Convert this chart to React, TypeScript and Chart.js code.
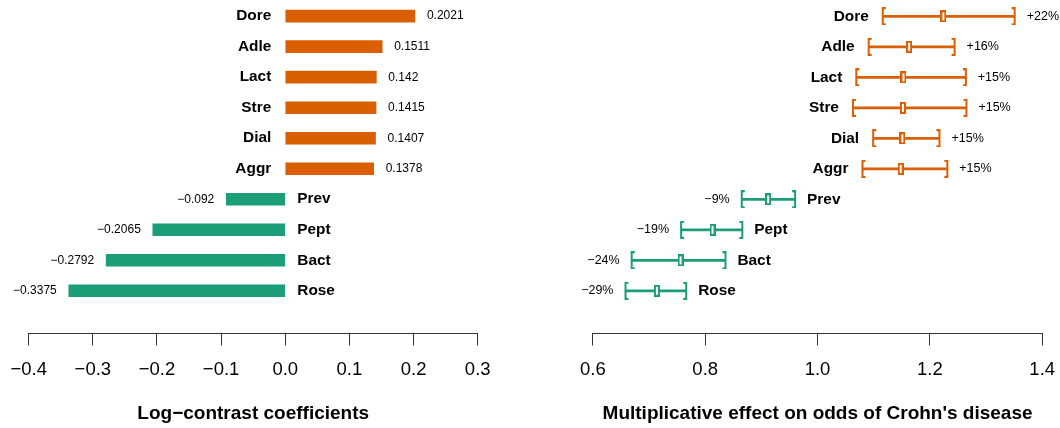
import React, { useEffect, useRef } from "react";
import { Chart, registerables } from "chart.js";

Chart.register(...registerables);

// ---------- data ----------
const categories = ["Dore", "Adle", "Lact", "Stre", "Dial", "Aggr", "Prev", "Pept", "Bact", "Rose"];
const coefficients = [0.2021, 0.1511, 0.142, 0.1415, 0.1407, 0.1378, -0.092, -0.2065, -0.2792, -0.3375];
const coefLabels = ["0.2021", "0.1511", "0.142", "0.1415", "0.1407", "0.1378", "\u22120.092", "\u22120.2065", "\u22120.2792", "\u22120.3375"];
const oddsEstimate = [1.224, 1.163, 1.153, 1.152, 1.151, 1.148, 0.912, 0.813, 0.756, 0.714];
const oddsLower = [1.116, 1.091, 1.069, 1.063, 1.099, 1.080, 0.865, 0.757, 0.669, 0.658];
const oddsUpper = [1.351, 1.244, 1.264, 1.265, 1.217, 1.231, 0.960, 0.866, 0.836, 0.766];
const effectLabels = ["+22%", "+16%", "+15%", "+15%", "+15%", "+15%", "\u22129%", "\u221219%", "\u221224%", "\u221229%"];
const leftTicks = [-0.4, -0.3, -0.2, -0.1, 0.0, 0.1, 0.2, 0.3];
const rightTicks = [0.6, 0.8, 1.0, 1.2, 1.4];
const leftTitle = "Log\u2212contrast coefficients";
const rightTitle = "Multiplicative effect on odds of Crohn's disease";

const ORANGE = "#D95F02";
const GREEN = "#1B9E77";
const FONT = "'Liberation Sans', Arial, Helvetica, sans-serif";
const W = 530;
const H = 428;

Chart.defaults.font.family = FONT;
Chart.defaults.color = "#000";

const fmt = (v: number) => (v < 0 ? "\u2212" + Math.abs(v).toFixed(1) : v.toFixed(1));
const rowColor = (i: number) => (coefficients[i] >= 0 ? ORANGE : GREEN);

function makeBracket(color: string, side: "left" | "right") {
  const c = document.createElement("canvas");
  c.width = 10;
  c.height = 18;
  const ctx = c.getContext("2d")!;
  ctx.fillStyle = color;
  ctx.fillRect(4, 0, 2, 18);
  if (side === "left") {
    ctx.fillRect(4, 0, 4, 2);
    ctx.fillRect(4, 16, 4, 2);
  } else {
    ctx.fillRect(2, 0, 4, 2);
    ctx.fillRect(2, 16, 4, 2);
  }
  return c;
}

function makeMarker(color: string) {
  const c = document.createElement("canvas");
  c.width = 6;
  c.height = 12;
  const ctx = c.getContext("2d")!;
  ctx.fillStyle = "#fff";
  ctx.fillRect(0, 0, 6, 12);
  ctx.strokeStyle = color;
  ctx.lineWidth = 2;
  ctx.strokeRect(1, 1, 4, 10);
  return c;
}

function xAxisOptions(min: number, max: number, ticks: number[], title: string) {
  return {
    type: "linear" as const,
    min,
    max,
    offset: false,
    afterBuildTicks: (s: any) => {
      s.ticks = ticks.map((v) => ({ value: v }));
    },
    afterFit: (s: any) => {
      s.paddingLeft = 0;
      s.paddingRight = 0;
    },
    ticks: {
      callback: (v: any) => fmt(Number(v)),
      font: { size: 18.5 },
      color: "#000",
      padding: 13.7,
      maxRotation: 0,
      minRotation: 0,
      autoSkip: false,
    },
    grid: { offset: false, drawOnChartArea: false, drawTicks: true, tickLength: 12, color: "#333", lineWidth: 1 },
    border: { display: true, color: "#333", width: 1 },
    title: {
      display: true,
      text: title,
      font: { size: 19, weight: "bold" as const },
      color: "#000",
      padding: { top: 7.5, bottom: 0 },
    },
  };
}

function yAxisOptions() {
  return {
    type: "linear" as const,
    reverse: true,
    min: -0.53,
    max: 10.4,
    offset: false,
    grid: { offset: false },
    display: false,
  };
}

const leftLabelPlugin = {
  id: "leftLabels",
  afterDatasetsDraw(chart: any) {
    const { ctx, scales } = chart;
    const x = scales.x;
    const y = scales.y;
    const x0 = x.getPixelForValue(0);
    ctx.save();
    ctx.textBaseline = "middle";
    ctx.fillStyle = "#000";
    coefficients.forEach((v, i) => {
      const py = y.getPixelForValue(i);
      const px = x.getPixelForValue(v);
      ctx.font = `bold 15.4px ${FONT}`;
      if (v >= 0) {
        ctx.textAlign = "right";
        ctx.fillText(categories[i], x0 - 14, py);
      } else {
        ctx.textAlign = "left";
        ctx.fillText(categories[i], x0 + 12, py);
      }
      ctx.font = `12px ${FONT}`;
      if (v >= 0) {
        ctx.textAlign = "left";
        ctx.fillText(coefLabels[i], px + 12, py);
      } else {
        ctx.textAlign = "right";
        ctx.fillText(coefLabels[i], px - 12, py);
      }
    });
    ctx.restore();
  },
};

const rightLabelPlugin = {
  id: "rightLabels",
  afterDatasetsDraw(chart: any) {
    const { ctx, scales } = chart;
    const x = scales.x;
    const y = scales.y;
    ctx.save();
    ctx.textBaseline = "middle";
    ctx.fillStyle = "#000";
    categories.forEach((name, i) => {
      const py = y.getPixelForValue(i);
      const lo = x.getPixelForValue(oddsLower[i]);
      const hi = x.getPixelForValue(oddsUpper[i]);
      const positive = coefficients[i] >= 0;
      ctx.font = `bold 15.4px ${FONT}`;
      if (positive) {
        ctx.textAlign = "right";
        ctx.fillText(name, lo - 14, py);
      } else {
        ctx.textAlign = "left";
        ctx.fillText(name, hi + 12, py);
      }
      ctx.font = `12.5px ${FONT}`;
      if (positive) {
        ctx.textAlign = "left";
        ctx.fillText(effectLabels[i], hi + 12, py);
      } else {
        ctx.textAlign = "right";
        ctx.fillText(effectLabels[i], lo - 12, py);
      }
    });
    ctx.restore();
  },
};

export default function App() {
  const leftRef = useRef<HTMLCanvasElement | null>(null);
  const rightRef = useRef<HTMLCanvasElement | null>(null);

  useEffect(() => {
    const common = {
      responsive: false,
      animation: false as const,
      events: [] as any[],
      indexAxis: "y" as const,
      plugins: { legend: { display: false }, tooltip: { enabled: false } },
    };

    const left = new Chart(leftRef.current!, {
      type: "bar",
      data: {
        datasets: [
          {
            data: coefficients.map((v, i) => ({ x: v, y: i })),
            backgroundColor: coefficients.map((_, i) => rowColor(i)),
            barThickness: 12,
            borderWidth: 0,
          } as any,
        ],
      },
      options: {
        ...common,
        layout: { padding: { left: 28.7, right: W - 477.7, top: 0, bottom: 2.6 } },
        scales: {
          x: xAxisOptions(-0.4, 0.3, leftTicks, leftTitle) as any,
          y: yAxisOptions() as any,
        },
      } as any,
      plugins: [leftLabelPlugin],
    });

    const lowerImgs = categories.map((_, i) => makeBracket(rowColor(i), "left"));
    const upperImgs = categories.map((_, i) => makeBracket(rowColor(i), "right"));
    const markerImgs = categories.map((_, i) => makeMarker(rowColor(i)));

    const pointDefaults = {
      type: "scatter",
      radius: 0.2,
      hoverRadius: 0,
      borderWidth: 0,
      hoverBorderWidth: 0,
      clip: false,
      xAxisID: "x",
      yAxisID: "y",
    };

    const right = new Chart(rightRef.current!, {
      type: "bar",
      data: {
        datasets: [
          {
            ...pointDefaults,
            order: 0,
            data: oddsEstimate.map((v, i) => ({ x: v, y: i })),
            pointStyle: markerImgs,
          } as any,
          {
            ...pointDefaults,
            order: 1,
            data: oddsLower.map((v, i) => ({ x: v, y: i })),
            pointStyle: lowerImgs,
          } as any,
          {
            ...pointDefaults,
            order: 1,
            data: oddsUpper.map((v, i) => ({ x: v, y: i })),
            pointStyle: upperImgs,
          } as any,
          {
            type: "bar",
            order: 2,
            data: oddsLower.map((v, i) => ({ x: [v, oddsUpper[i]], y: i })),
            backgroundColor: categories.map((_, i) => rowColor(i)),
            barThickness: 2,
            borderWidth: 0,
            xAxisID: "x",
            yAxisID: "y",
          } as any,
        ],
      },
      options: {
        ...common,
        layout: { padding: { left: 592.9 - W, right: W * 2 - 1042.2, top: 0, bottom: 2.6 } },
        scales: {
          x: xAxisOptions(0.6, 1.4, rightTicks, rightTitle) as any,
          y: yAxisOptions() as any,
        },
      } as any,
      plugins: [rightLabelPlugin],
    });

    return () => {
      left.destroy();
      right.destroy();
    };
  }, []);

  return (
    <div style={{ position: "fixed", left: 0, top: 0, width: W * 2, height: H, background: "#fff" }}>
      <canvas ref={leftRef} width={W} height={H} style={{ position: "absolute", left: 0, top: 0, display: "block" }} />
      <canvas ref={rightRef} width={W} height={H} style={{ position: "absolute", left: W, top: 0, display: "block" }} />
    </div>
  );
}
